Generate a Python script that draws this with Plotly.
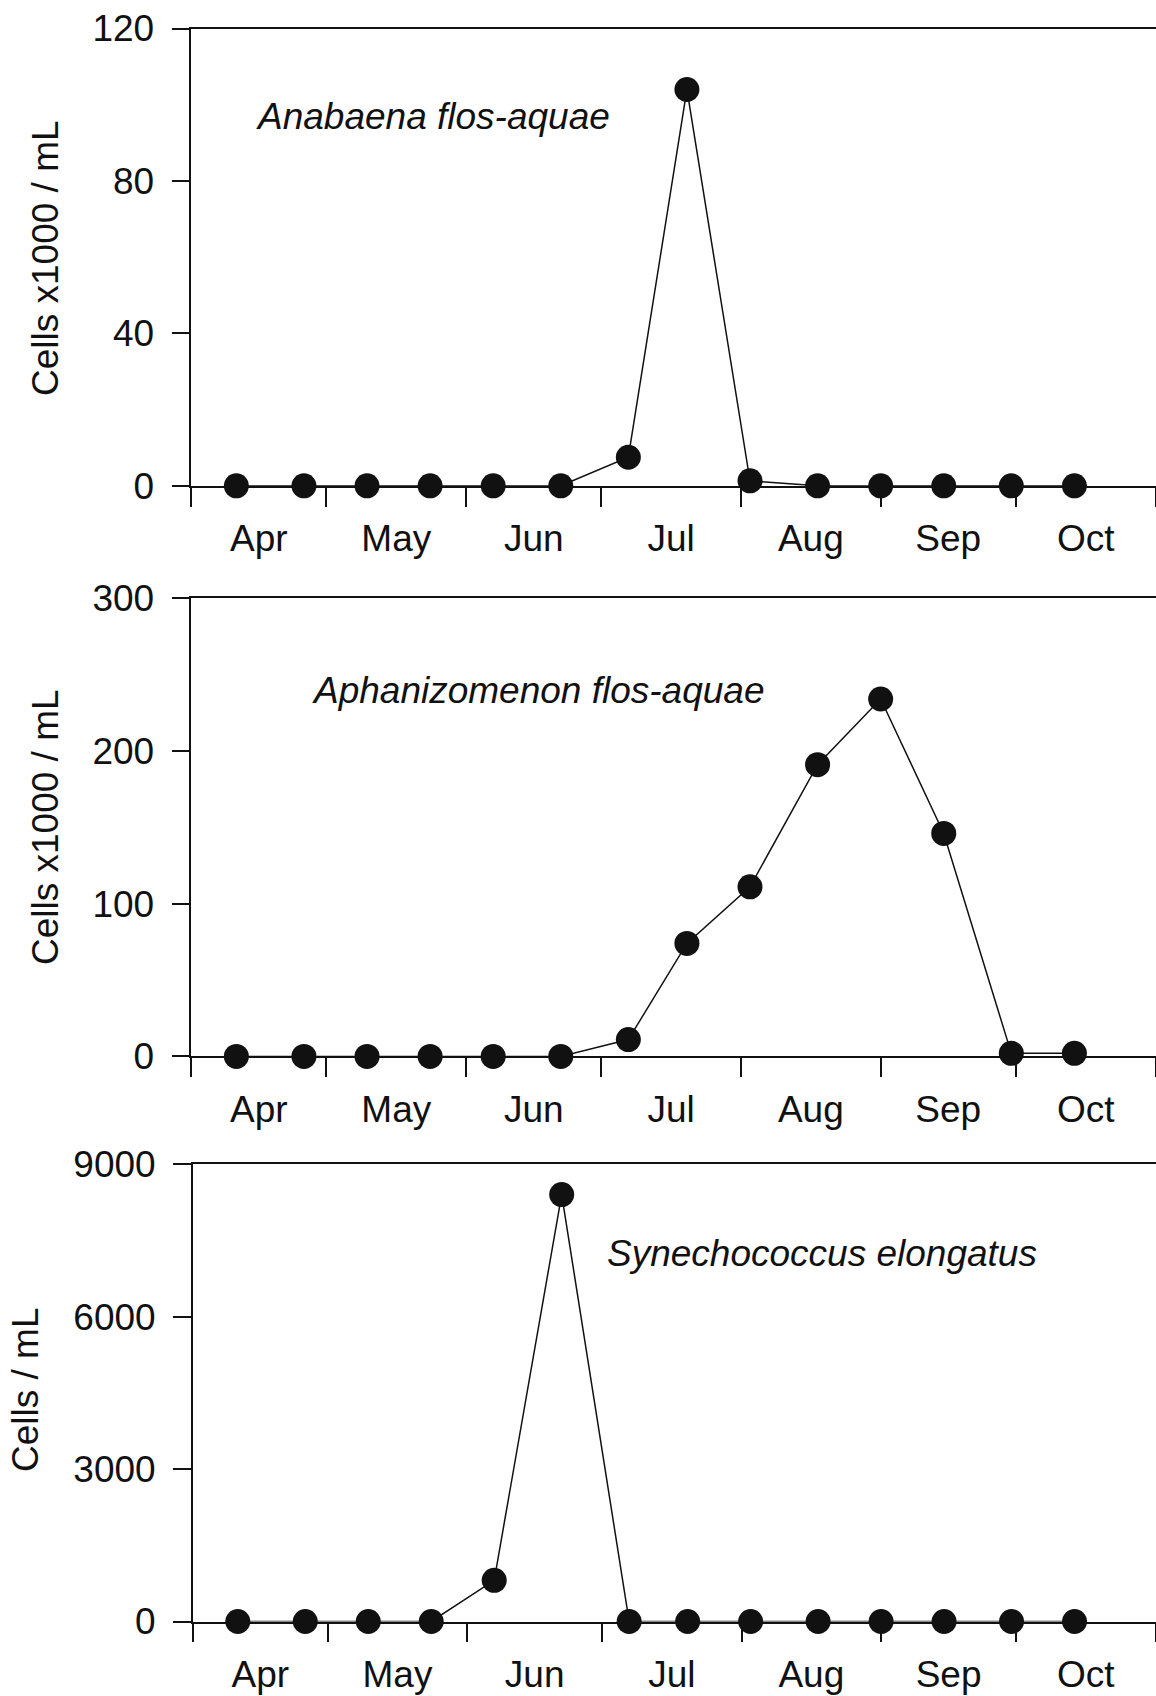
import plotly.graph_objects as go

# Sampling dates (roughly biweekly, April to October)
sample_dates = [
    "2005-04-11", "2005-04-26", "2005-05-10", "2005-05-24", "2005-06-07",
    "2005-06-22", "2005-07-07", "2005-07-20", "2005-08-03", "2005-08-18",
    "2005-09-01", "2005-09-15", "2005-09-30", "2005-10-14",
]

# Cell densities per species
anabaena = [0, 0, 0, 0, 0, 0, 7.5, 104, 1.3, 0, 0, 0, 0, 0]            # cells x1000 / mL
aphanizomenon = [0, 0, 0, 0, 0, 0, 11, 74, 111, 191, 234, 146, 2, 2]   # cells x1000 / mL
synechococcus = [0, 0, 0, 0, 810, 8400, 0, 0, 0, 0, 0, 0, 0, 0]        # cells / mL

species_names = ["Anabaena flos-aquae", "Aphanizomenon flos-aquae", "Synechococcus elongatus"]
y_titles = ["Cells x1000 / mL", "Cells x1000 / mL", "Cells / mL"]
y_tickvals = [[0, 40, 80, 120], [0, 100, 200, 300], [0, 3000, 6000, 9000]]
y_ranges = [[0, 120], [0, 300], [0, 9000]]
x_range = ["2005-04-01", "2005-11-01"]

series = [anabaena, aphanizomenon, synechococcus]

W, H = 1156, 1696
FONT = "Liberation Sans, Arial, sans-serif"
INK = "#111111"

# Panel boxes in pixels: left, right, top, bottom
boxes = [
    (191.3, 1155.5, 28.5, 485.8),
    (191.3, 1155.5, 598.2, 1056.4),
    (192.8, 1155.5, 1164.1, 1621.5),
]
# Species label positions (left x, middle y) and y-title centres (x, y) in pixels
label_pos = [(254, 116), (310, 691), (605, 1253)]
ytitle_pos = [(45, 258), (45, 827), (25, 1390)]

fig = go.Figure()
layout = dict(
    template="none",
    width=W, height=H,
    margin=dict(l=0, r=0, t=0, b=0, pad=0),
    paper_bgcolor="white", plot_bgcolor="white",
    showlegend=False,
    font=dict(family=FONT, size=37, color=INK),
    annotations=[],
)

for i, (vals, box) in enumerate(zip(series, boxes)):
    n = "" if i == 0 else str(i + 1)
    left, right, top, bottom = box
    fig.add_trace(go.Scatter(
        x=sample_dates, y=vals, mode="lines+markers",
        xaxis="x" + n, yaxis="y" + n,
        line=dict(color=INK, width=1.5),
        marker=dict(size=25, color=INK, line=dict(width=0)),
        cliponaxis=False,
    ))
    layout["xaxis" + n] = dict(
        type="date", range=x_range, domain=[left / W, right / W],
        anchor="y" + n, automargin=False,
        dtick="M1", tick0="2005-04-01", tickformat="%b", ticklabelmode="period",
        ticks="outside", ticklen=19, tickwidth=1.5, tickcolor=INK,
        ticklabelstandoff=0,
        showline=True, linecolor=INK, linewidth=1.5, mirror=True,
        showgrid=False, zeroline=False,
        tickfont=dict(family=FONT, size=37, color=INK),
    )
    layout["yaxis" + n] = dict(
        range=y_ranges[i], domain=[1 - bottom / H, 1 - top / H],
        anchor="x" + n, automargin=False,
        tickvals=y_tickvals[i],
        ticks="outside", ticklen=18, tickwidth=1.5, tickcolor=INK,
        ticklabelstandoff=10,
        showline=True, linecolor=INK, linewidth=1.5, mirror=True,
        showgrid=False, zeroline=False,
        tickfont=dict(family=FONT, size=37, color=INK),
    )
    lx, ly = label_pos[i]
    layout["annotations"].append(dict(
        text="<i>" + species_names[i] + "</i>",
        xref="paper", yref="paper", x=lx / W, y=1 - ly / H,
        xanchor="left", yanchor="middle", showarrow=False,
        font=dict(family=FONT, size=37, color=INK),
    ))
    tx, ty = ytitle_pos[i]
    layout["annotations"].append(dict(
        text=y_titles[i], textangle=-90,
        xref="paper", yref="paper", x=tx / W, y=1 - ty / H,
        xanchor="center", yanchor="middle", showarrow=False,
        font=dict(family=FONT, size=37, color=INK),
    ))

fig.update_layout(**layout)
fig.write_html("out.html")
